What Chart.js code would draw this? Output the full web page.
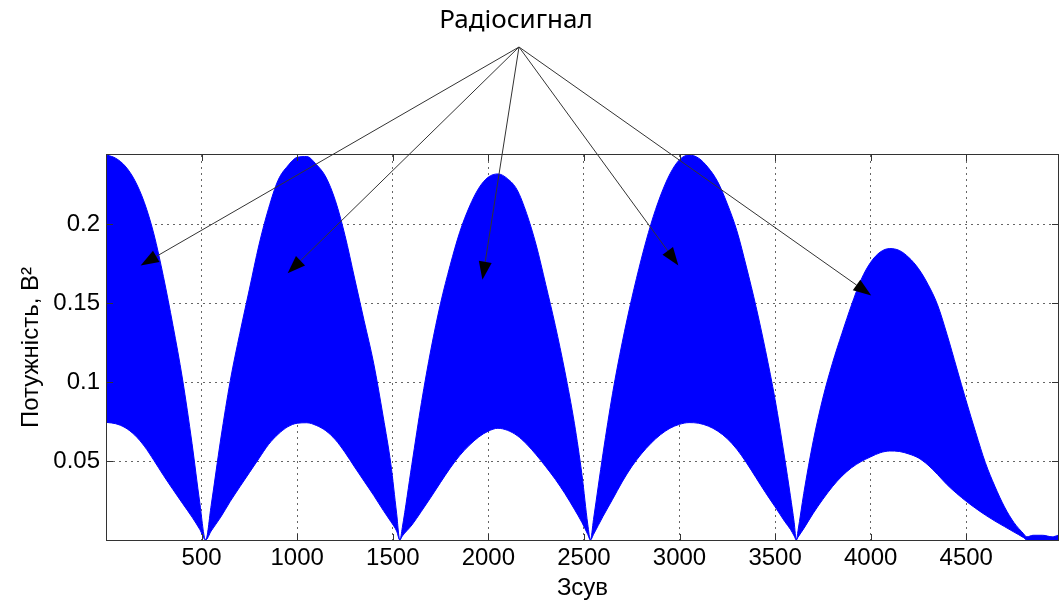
<!DOCTYPE html>
<html>
<head>
<meta charset="utf-8">
<script src="https://cdn.jsdelivr.net/npm/chart.js@4.4.1/dist/chart.umd.min.js"></script>
<style>
    html, body { margin: 0; padding: 0; background: #fff; }
</style>
</head>
<body>
<canvas id="power" width="1059" height="600"></canvas>
<script>
// DATA

// shift values, one lobe after another
const shift = [
    5, 50, 100, 150, 200, 250, 300, 350, 400, 450, 490, 521,
    550, 600, 650, 700, 750, 800, 850, 900, 950, 1000, 1050, 1100, 1150, 1200, 1250, 1300, 1350, 1400, 1450, 1490, 1520, 1537,
    1550, 1600, 1650, 1700, 1750, 1800, 1850, 1900, 1950, 2000, 2050, 2100, 2150, 2200, 2250, 2300, 2350, 2400, 2450, 2490, 2520, 2534,
    2550, 2600, 2650, 2700, 2750, 2800, 2850, 2900, 2950, 3000, 3050, 3100, 3150, 3200, 3250, 3300, 3350, 3400, 3450, 3500, 3550, 3580, 3600, 3611,
    3620, 3650, 3700, 3750, 3800, 3850, 3900, 3950, 4000, 4050, 4100, 4150, 4200, 4250, 4300, 4350, 4400, 4450, 4500, 4550, 4600, 4650, 4700, 4750, 4800, 4817,
    4850, 4900, 4950, 4980,
];

// upper envelope of the signal power
const upperPower = [
    0.244, 0.242, 0.237, 0.228, 0.214, 0.194, 0.167, 0.136, 0.102, 0.061, 0.024, 0,
    0.022, 0.064, 0.101, 0.131, 0.159, 0.187, 0.210, 0.228, 0.237, 0.2425, 0.243, 0.238, 0.230, 0.215, 0.193, 0.166, 0.139, 0.112, 0.078, 0.048, 0.017, 0,
    0.008, 0.048, 0.087, 0.121, 0.150, 0.174, 0.195, 0.211, 0.223, 0.230, 0.232, 0.229, 0.222, 0.207, 0.187, 0.162, 0.136, 0.107, 0.074, 0.041, 0.010, 0,
    0.013, 0.055, 0.093, 0.125, 0.153, 0.178, 0.200, 0.218, 0.232, 0.241, 0.244, 0.242, 0.236, 0.227, 0.213, 0.196, 0.173, 0.148, 0.120, 0.089, 0.052, 0.028, 0.011, 0,
    0.006, 0.0295, 0.063, 0.090, 0.112, 0.131, 0.149, 0.165, 0.176, 0.1825, 0.1847, 0.1835, 0.179, 0.172, 0.162, 0.149, 0.130, 0.109, 0.088, 0.068, 0.049, 0.034, 0.021, 0.011, 0.004, 0.002,
    0.003, 0.003, 0.002, 0.003,
];

// lower envelope of the signal power
const lowerPower = [
    0.0745, 0.0737, 0.0712, 0.0665, 0.0595, 0.0505, 0.041, 0.032, 0.0232, 0.0145, 0.0068, 0,
    0.0057, 0.0145, 0.0245, 0.0337, 0.0427, 0.0517, 0.0605, 0.067, 0.0717, 0.074, 0.0743, 0.0726, 0.0692, 0.0635, 0.0555, 0.0463, 0.0373, 0.0283, 0.0188, 0.0116, 0.0057, 0,
    0.0025, 0.0095, 0.0182, 0.0272, 0.0365, 0.0455, 0.0535, 0.06, 0.0653, 0.069, 0.0708, 0.0695, 0.0662, 0.0608, 0.054, 0.0465, 0.0385, 0.0295, 0.0195, 0.011, 0.0035, 0,
    0.0035, 0.015, 0.0258, 0.0368, 0.0465, 0.0545, 0.0612, 0.0667, 0.0708, 0.0733, 0.0744, 0.074, 0.0722, 0.069, 0.0642, 0.0575, 0.049, 0.0395, 0.03, 0.021, 0.0118, 0.0068, 0.0025, 0,
    0.0018, 0.0072, 0.017, 0.0258, 0.0338, 0.0405, 0.0458, 0.0497, 0.0527, 0.0553, 0.0564, 0.0561, 0.0545, 0.052, 0.0475, 0.0415, 0.035, 0.0295, 0.0245, 0.02, 0.0158, 0.012, 0.0085, 0.005, 0.0015, 0,
    0, 0, 0, 0,
];

const xTickValues = [500, 1000, 1500, 2000, 2500, 3000, 3500, 4000, 4500];
const yTickValues = [0.05, 0.1, 0.15, 0.2];

// where each callout arrow points (data units)
const arrowShift = [181, 950, 1969, 2994, 4003];
const arrowPower = [0.174, 0.169, 0.165, 0.174, 0.155];

const calloutText = "Радіосигнал";


// SETTINGS

const BLUE = "#0000ff";
const AXIS_COLOR = "#333";
const AXIS_FONT = "'Liberation Sans', Arial, sans-serif";

const calloutSpot = { x: 516, y: 28 };   // text baseline centre
const arrowOrigin = { x: 519, y: 47 };


// PLUGINS

// box round the plot with inward tick marks on all four sides
const axesBox = {
    id: "axesBox",
    afterDatasetsDraw(chart) {
        const { ctx, chartArea: a, scales } = chart;
        const tick = 6;
        ctx.save();
        ctx.strokeStyle = AXIS_COLOR;
        ctx.lineWidth = 1;
        ctx.strokeRect(a.left - 0.5, a.top - 0.5, a.right - a.left + 1, a.bottom - a.top + 1);

        ctx.beginPath();
        xTickValues.forEach(v => {
            const x = Math.round(scales.x.getPixelForValue(v)) + 0.5;
            ctx.moveTo(x, a.bottom);
            ctx.lineTo(x, a.bottom - tick);
            ctx.moveTo(x, a.top);
            ctx.lineTo(x, a.top + tick);
        });
        yTickValues.forEach(v => {
            const y = Math.round(scales.y.getPixelForValue(v)) + 0.5;
            ctx.moveTo(a.left, y);
            ctx.lineTo(a.left + tick, y);
            ctx.moveTo(a.right, y);
            ctx.lineTo(a.right - tick, y);
        });
        ctx.stroke();
        ctx.restore();
    }
};

function drawArrow(ctx, x0, y0, x1, y1) {
    const ang = Math.atan2(y1 - y0, x1 - x0);
    const len = 18;
    const half = 6.5;
    const bx = x1 - len * Math.cos(ang);
    const by = y1 - len * Math.sin(ang);

    ctx.beginPath();
    ctx.moveTo(x0, y0);
    ctx.lineTo(bx, by);
    ctx.stroke();

    ctx.beginPath();
    ctx.moveTo(x1, y1);
    ctx.lineTo(bx + half * Math.sin(ang), by - half * Math.cos(ang));
    ctx.lineTo(bx - half * Math.sin(ang), by + half * Math.cos(ang));
    ctx.closePath();
    ctx.fill();
}

// "Радіосигнал" label with arrows pointing at every lobe
const callout = {
    id: "callout",
    afterDraw(chart) {
        const { ctx, scales } = chart;
        ctx.save();
        ctx.fillStyle = "#000";
        ctx.font = "26px 'Noto Sans', sans-serif";
        ctx.textAlign = "center";
        ctx.textBaseline = "alphabetic";
        ctx.fillText(calloutText, calloutSpot.x, calloutSpot.y);

        ctx.strokeStyle = "#333";
        ctx.fillStyle = "#000";
        ctx.lineWidth = 1;
        arrowShift.forEach((s, i) => {
            const x = scales.x.getPixelForValue(s);
            const y = scales.y.getPixelForValue(arrowPower[i]);
            drawArrow(ctx, arrowOrigin.x, arrowOrigin.y, x, y);
        });
        ctx.restore();
    }
};


// CHART

const toPoints = values => shift.map((x, i) => ({ x: x, y: values[i] }));

new Chart(document.getElementById("power"), {
    type: "line",
    plugins: [axesBox, callout],
    data: {
        datasets: [
            {
                data: toPoints(upperPower),
                borderColor: BLUE,
                borderWidth: 1,
                backgroundColor: BLUE,
                fill: "+1", // fill down to the lower envelope
                pointRadius: 0,
                cubicInterpolationMode: "monotone",
            },
            {
                data: toPoints(lowerPower),
                borderColor: BLUE,
                borderWidth: 1,
                fill: false,
                pointRadius: 0,
                cubicInterpolationMode: "monotone",
            },
        ]
    },
    options: {
        responsive: false,
        animation: false,
        devicePixelRatio: 1,
        events: [],
        layout: {
            padding: { top: 155, left: 0, right: 1, bottom: 0 },
        },
        scales: {
            x: {
                type: "linear",
                min: 5,
                max: 4980,
                afterFit: scale => { scale.height = 60; },
                afterBuildTicks: scale => {
                    scale.ticks = xTickValues.map(v => ({ value: v }));
                },
                grid: {
                    color: "#666",
                    lineWidth: 1,
                    drawTicks: false,
                },
                border: { display: false, dash: [2, 4] },
                ticks: {
                    color: "#000",
                    padding: 4,
                    maxRotation: 0,
                    autoSkip: false,
                    font: { family: AXIS_FONT, size: 24 },
                    callback: value => String(value),
                },
                title: {
                    display: true,
                    text: "Зсув",
                    color: "#000",
                    font: { family: AXIS_FONT, size: 24, lineHeight: 1 },
                    padding: { top: 0, bottom: 0 },
                },
            },
            y: {
                min: 0,
                max: 0.244,
                afterFit: scale => { scale.width = 107; },
                afterBuildTicks: scale => {
                    scale.ticks = yTickValues.map(v => ({ value: v }));
                },
                grid: {
                    color: "#666",
                    lineWidth: 1,
                    drawTicks: false,
                },
                border: { display: false, dash: [2, 4] },
                ticks: {
                    color: "#000",
                    padding: 7,
                    autoSkip: false,
                    font: { family: AXIS_FONT, size: 24 },
                    callback: value => String(value),
                },
                title: {
                    display: true,
                    text: "Потужність, В²",
                    color: "#000",
                    font: { family: AXIS_FONT, size: 24, lineHeight: 1 },
                    padding: { top: 19, bottom: 0 },
                },
            }
        },
        plugins: {
            legend: { display: false },
            tooltip: { enabled: false },
        }
    }
});
</script>
</body>
</html>
